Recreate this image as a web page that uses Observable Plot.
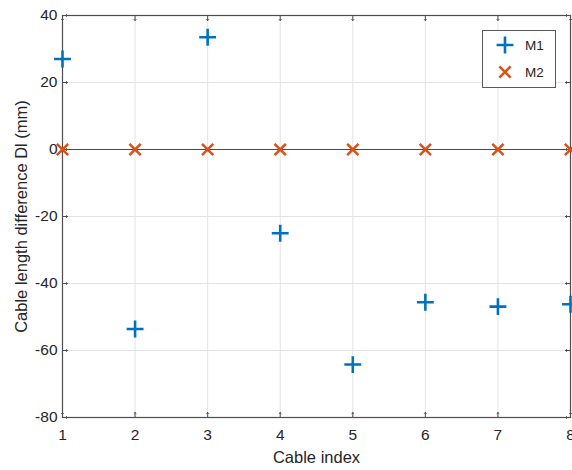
<!DOCTYPE html>
<html>
<head>
<meta charset="utf-8">
<script src="https://cdn.jsdelivr.net/npm/d3@7"></script>
<script src="https://cdn.jsdelivr.net/npm/@observablehq/plot@0.6"></script>
<style>
  html, body { margin: 0; padding: 0; background: #fff; overflow: hidden; }
  #wrap { position: relative; width: 572px; height: 470px; font-family: "Liberation Sans", Arial, sans-serif; }
  #legend { position: absolute; left: 482px; top: 30px; width: 74px; height: 58px; border: 1px solid #5a5a5a; background: #fff; box-sizing: border-box; }
  #legend svg { display: block; }
</style>
</head>
<body>
<div id="wrap"></div>
<script>
// Data
const cableIndex = [1, 2, 3, 4, 5, 6, 7, 8];
const m1 = [27, -53.6, 33.5, -25, -64.2, -45.6, -46.9, -46.2];
const m2 = [0, 0, 0, 0, 0, 0, 0, 0];
const yTicks = [-80, -60, -40, -20, 0, 20, 40];
const xTicks = [1, 2, 3, 4, 5, 6, 7, 8];
const seriesNames = ["M1", "M2"];
const seriesColors = ["#0072BD", "#D95319"];

const d1 = cableIndex.map((x, i) => ({x, y: m1[i]}));
const d2 = cableIndex.map((x, i) => ({x, y: m2[i]}));

const axisColor = "#262626";
const boxColor = "#4d4d4d";
const gridColor = "#e3e3e3";
const plusR = 5.5;
const timesR = 5.2;

const chart = Plot.plot({
  width: 572,
  height: 470,
  marginLeft: 62,
  marginRight: 2,
  marginTop: 15,
  marginBottom: 53,
  style: {fontFamily: '"Liberation Sans", Arial, sans-serif', background: "transparent", overflow: "visible"},
  x: {domain: [1, 8]},
  y: {domain: [-80, 40]},
  marks: [
    Plot.gridX(xTicks, {stroke: gridColor, strokeOpacity: 1, strokeWidth: 1}),
    Plot.gridY(yTicks, {stroke: gridColor, strokeOpacity: 1, strokeWidth: 1}),
    Plot.ruleY([0], {stroke: "#4a4a4a", strokeWidth: 1.2}),
    Plot.frame({stroke: boxColor, strokeWidth: 1.2}),
    // inward ticks
    Plot.vector(yTicks, {y: d => d, frameAnchor: "left", rotate: 90, length: 5, anchor: "start", stroke: boxColor, strokeWidth: 1}),
    Plot.vector(yTicks, {y: d => d, frameAnchor: "right", rotate: -90, length: 5, anchor: "start", stroke: boxColor, strokeWidth: 1}),
    Plot.vector(xTicks, {x: d => d, frameAnchor: "bottom", rotate: 0, length: 5, anchor: "start", stroke: boxColor, strokeWidth: 1}),
    Plot.vector(xTicks, {x: d => d, frameAnchor: "top", rotate: 180, length: 5, anchor: "start", stroke: boxColor, strokeWidth: 1}),
    Plot.axisY(yTicks, {
      tickSize: 0, tickPadding: 5, fontSize: 15.5, color: axisColor,
      tickFormat: d => String(d), label: null
    }),
    Plot.axisX(xTicks, {
      tickSize: 0, tickPadding: 11, fontSize: 15.5, color: axisColor,
      tickFormat: d => String(d), label: null
    }),
    Plot.text(["Cable length difference Dl (mm)"], {
      frameAnchor: "left", dx: -47, rotate: -90, lineAnchor: "top", textAnchor: "middle",
      fontSize: 16.5, fill: axisColor
    }),
    Plot.text(["Cable index"], {
      frameAnchor: "bottom", dy: 45, lineAnchor: "bottom", textAnchor: "middle",
      fontSize: 16.5, fill: axisColor
    }),
    Plot.dot(d2, {x: "x", y: "y", symbol: "times", r: timesR, stroke: seriesColors[1], strokeWidth: 2.6}),
    Plot.dot(d1, {x: "x", y: "y", symbol: "plus", r: plusR, stroke: seriesColors[0], strokeWidth: 2.6})
  ]
});

const wrap = document.getElementById("wrap");
wrap.appendChild(chart);

// Legend
const legend = document.createElement("div");
legend.id = "legend";
wrap.appendChild(legend);
const lsvg = d3.select(legend).append("svg").attr("width", 72).attr("height", 56);
const syms = [d3.symbolPlus, d3.symbolTimes];
const sizes = [Math.PI * plusR * plusR, Math.PI * timesR * timesR];
seriesNames.forEach((name, i) => {
  const cy = 14 + i * 27;
  lsvg.append("path")
    .attr("d", d3.symbol(syms[i], sizes[i])())
    .attr("transform", `translate(22,${cy})`)
    .attr("fill", "none")
    .attr("stroke", seriesColors[i])
    .attr("stroke-width", 2.6);
  lsvg.append("text")
    .attr("x", 42).attr("y", cy + 5)
    .attr("font-size", 13.5)
    .attr("font-family", '"Liberation Sans", Arial, sans-serif')
    .attr("fill", "#262626")
    .text(name);
});
</script>
</body>
</html>
